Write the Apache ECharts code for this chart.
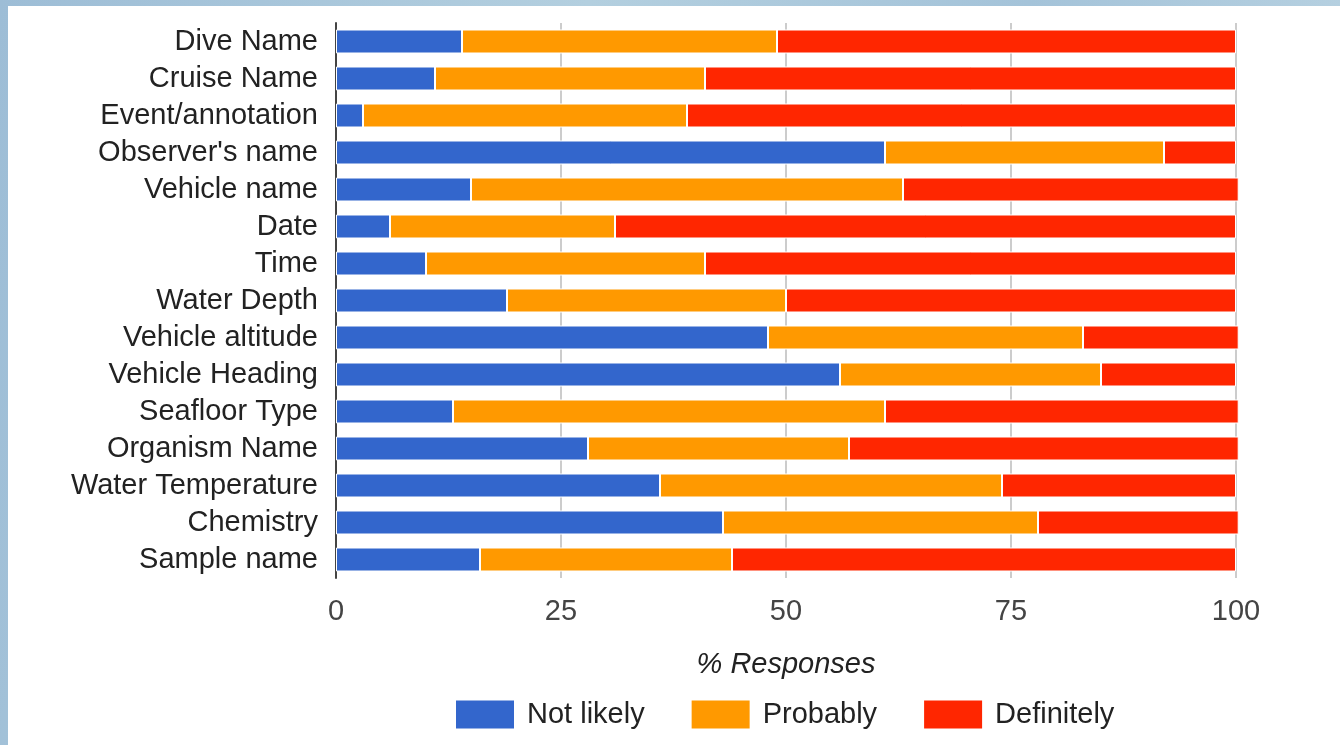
<!DOCTYPE html>
<html lang="en">
<head>
    <meta charset="utf-8" />
    <title>% Responses</title>
    <script src="https://cdn.jsdelivr.net/npm/echarts@6/dist/echarts.min.js"></script>
    <style>
        html, body { margin: 0; padding: 0; }
        body {
            width: 1340px; height: 745px; overflow: hidden; position: relative;
            background: linear-gradient(100deg, #9dbdd6 0%, #b3cfdf 40%, #a4c3d9 70%, #bcd5e3 100%);
        }
        #box { position: absolute; left: 8px; top: 6px; width: 1332px; height: 739px; background: #fff; }
    </style>
</head>
<body>
    <div id="box"></div>
    <script>
        // 类目（从上到下）
        var categories = ['Dive Name', 'Cruise Name', 'Event/annotation', "Observer's name", 'Vehicle name',
            'Date', 'Time', 'Water Depth', 'Vehicle altitude', 'Vehicle Heading',
            'Seafloor Type', 'Organism Name', 'Water Temperature', 'Chemistry', 'Sample name'];
        var seriesNames = ['Not likely', 'Probably', 'Definitely'];
        var notLikely  = [14, 11, 3, 61, 15, 6, 10, 19, 48, 56, 13, 28, 36, 43, 16];
        var probably   = [35, 30, 36, 31, 48, 25, 31, 31, 35, 29, 48, 29, 38, 35, 28];
        var definitely = [51, 59, 61, 8, 37.3, 69, 59, 50, 17.3, 15, 39.3, 43.3, 26, 22.3, 56];
        var xTicks = [0, 25, 50, 75, 100];
        var colors = ['#3366cc', '#ff9900', '#ff2600'];

        var font = "'Liberation Sans', Arial, Helvetica, sans-serif";
        var myChart = echarts.init(document.getElementById('box'));

        function bar(name, data) {
            return {
                name: name,
                type: 'bar',
                stack: 'total',
                barWidth: 24,
                clip: false,
                itemStyle: { borderColor: '#fff', borderWidth: 1 },
                data: data
            };
        }

        var option = {
            backgroundColor: '#fff',
            animation: false,
            color: colors,
            textStyle: { fontFamily: font },
            grid: { left: 328, right: 104, top: 17, bottom: 167 },
            legend: {
                data: seriesNames,
                left: 443,
                top: 689,
                icon: 'rect',
                itemWidth: 58,
                itemHeight: 28,
                itemGap: 47,
                itemStyle: { borderWidth: 0 },
                textStyle: { fontSize: 29, color: '#222', fontFamily: font, padding: [0, 0, 0, 8] }
            },
            xAxis: {
                type: 'value',
                min: xTicks[0],
                max: xTicks[xTicks.length - 1],
                interval: 25,
                name: '% Responses',
                nameLocation: 'middle',
                nameGap: 72,
                nameTextStyle: { fontSize: 29, fontStyle: 'italic', color: '#222', fontFamily: font },
                axisLine: { show: false },
                axisTick: { show: false },
                axisLabel: { fontSize: 29, color: '#444', margin: 19, fontFamily: font },
                splitLine: { lineStyle: { color: '#cccccc', width: 2 } }
            },
            yAxis: {
                type: 'category',
                inverse: true,
                data: categories,
                axisLine: { lineStyle: { color: '#444', width: 2 } },
                axisTick: { show: false },
                axisLabel: { interval: 0, fontSize: 29, color: '#222', margin: 18, padding: [4, 0, 0, 0], fontFamily: font }
            },
            series: [
                bar(seriesNames[0], notLikely),
                bar(seriesNames[1], probably),
                bar(seriesNames[2], definitely)
            ]
        };
        myChart.setOption(option);
    </script>
</body>
</html>
